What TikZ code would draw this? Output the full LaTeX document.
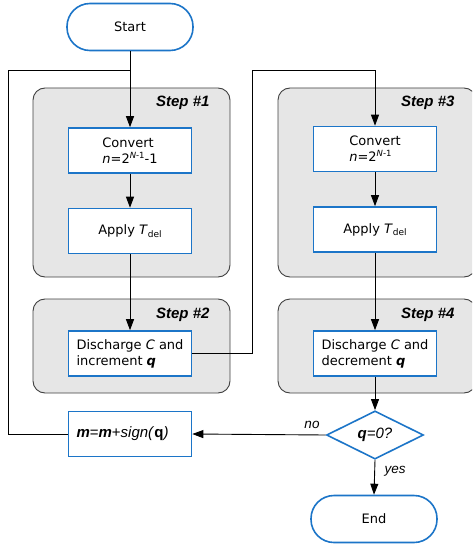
\documentclass[tikz,border=0pt]{standalone}
\usepackage{fontspec}
\setmainfont{DejaVu Sans}
\newfontfamily\arialf{Liberation Sans}
\usetikzlibrary{arrows.meta,shapes.geometric}
\definecolor{boxblue}{RGB}{28,117,200}
\definecolor{groupfill}{RGB}{230,230,230}
\definecolor{groupline}{RGB}{64,64,64}

\newcommand{\supx}[1]{\raisebox{5pt}{\fontsize{8.5}{9}\selectfont #1}}
\newcommand{\subx}[1]{\raisebox{-2.5pt}{\fontsize{9}{9}\selectfont #1}}

\begin{document}
\begin{tikzpicture}[x=1pt,y=-1pt,
  every node/.style={font=\fontsize{13}{16}\selectfont},
  procbox/.style={draw=boxblue, line width=1.6pt, fill=white,
    minimum width=123pt, minimum height=45pt, inner sep=0pt, align=left},
  terminal/.style={draw=boxblue, line width=1.6pt, fill=white,
    rounded corners=23pt, minimum width=126pt, minimum height=47pt},
  decision/.style={draw=boxblue, line width=1.6pt, fill=white, diamond,
    minimum width=97pt, minimum height=47pt, inner sep=0pt,
    font=\arialf\fontsize{15}{18}\selectfont},
  group/.style={draw=groupline, line width=0.9pt, fill=groupfill, rounded corners=12pt},
  steplabel/.style={font=\arialf\bfseries\itshape\fontsize{15}{18}\selectfont, anchor=east},
  flow/.style={line width=0.9pt, -{Triangle[length=11pt,width=8pt]}},
  link/.style={line width=0.9pt},
  branch/.style={font=\arialf\itshape\fontsize{13.5}{16}\selectfont}
]
\useasboundingbox (0,0) rectangle (472,545);
\clip (0,0) rectangle (472,545);

% grey step panels
\draw[group] (33,88) rectangle (230,277);
\draw[group] (33,299) rectangle (230,393);
\draw[group] (278,88) rectangle (476,277);
\draw[group] (278,299) rectangle (476,393);
\node[steplabel] (s1) at (213,103) {Step \#1};
\node[steplabel] (s2) at (213,315) {Step \#2};
\node[steplabel] (s3) at (458,103) {Step \#3};
\node[steplabel] (s4) at (458,315) {Step \#4};

% flow nodes
\node[terminal] (start) at (130,27) {Start};
\node[procbox] (conv1) at (130,150.5) {Convert\\\textit{n}=2\supx{\textit{N}-1}-1};
\node[procbox] (apply1) at (130,231) {Apply \textit{T}\subx{del}};
\node[procbox] (dis1) at (130,353.5) {Discharge \textit{C} and\\increment \textbf{\textit{q}}};
\node[procbox] (conv3) at (375,149) {Convert\\\textit{n}=2\supx{\textit{N}-1}};
\node[procbox] (apply3) at (375,229.5) {Apply \textit{T}\subx{del}};
\node[procbox] (dis4) at (375,353.5) {Discharge \textit{C} and\\decrement \textbf{\textit{q}}};
\node[decision] (dec) at (375,435) {\textbf{\textit{q}}\textit{=0?}};
\node[procbox, text width=107pt, inner xsep=8pt, font=\arialf\fontsize{15}{18}\selectfont]
  (mupd) at (130,434) {\textbf{\textit{m}}=\textbf{\textit{m}}+\textit{sign(}\textbf{q}\textit{)}};
\node[terminal] (end) at (374,519) {End};

% routing points
\coordinate (join) at (130,70);
\coordinate (loopcorner) at (8,70);
\coordinate (hop) at (252,70);

% connectors
\draw[flow] (start) -- (conv1);
\draw[flow] (conv1) -- (apply1);
\draw[flow] (apply1) -- (dis1);
\draw[flow] (dis1.east) -| (hop) -| (conv3.north);
\draw[flow] (conv3) -- (apply3);
\draw[flow] (apply3) -- (dis4);
\draw[flow] (dis4) -- (dec);
\draw[flow] (dec.west) -- (mupd.east);
\draw[flow] (dec.south) -- (end.north);
\draw[link] (mupd.west) -| (loopcorner) -- (join);

\node[branch] (nolbl) at (312,425) {no};
\node[branch] (yeslbl) at (395,471) {yes};
\end{tikzpicture}
\end{document}
